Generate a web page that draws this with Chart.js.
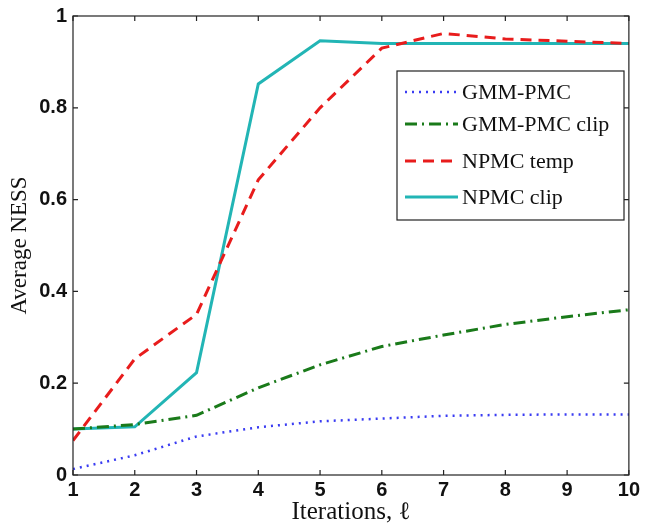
<!DOCTYPE html>
<html>
<head>
<meta charset="utf-8">
<script src="https://cdn.jsdelivr.net/npm/chart.js@4.4.0/dist/chart.umd.min.js"></script>
<style>
  html, body { margin: 0; padding: 0; background: #fff; }
  #wrap { width: 645px; height: 528px; }
</style>
</head>
<body>
<div id="wrap"><canvas id="ness"></canvas></div>
<script>
var iterations = [1, 2, 3, 4, 5, 6, 7, 8, 9, 10];
var gmmPmc = [0.013, 0.043, 0.084, 0.104, 0.117, 0.123, 0.129, 0.131, 0.132, 0.132];
var gmmPmcClip = [0.10, 0.11, 0.13, 0.19, 0.24, 0.28, 0.305, 0.328, 0.345, 0.36];
var npmcTemp = [0.075, 0.253, 0.35, 0.643, 0.80, 0.93, 0.962, 0.95, 0.945, 0.94];
var npmcClip = [0.10, 0.105, 0.223, 0.852, 0.946, 0.94, 0.94, 0.94, 0.94, 0.94];
var yTicks = [0, 0.2, 0.4, 0.6, 0.8, 1];

function pts(vals) {
    return vals.map(function (v, i) { return { x: iterations[i], y: v }; });
}

// matlab style box, inward ticks and legend
var matlabBox = {
    id: 'matlabBox',
    afterDatasetsDraw: function (chart) {
        var ctx = chart.ctx;
        var a = chart.chartArea;
        var xs = chart.scales.x, ys = chart.scales.y;
        ctx.save();
        ctx.strokeStyle = '#222';
        ctx.lineWidth = 1.2;
        ctx.strokeRect(a.left, a.top, a.right - a.left, a.bottom - a.top);
        iterations.forEach(function (v) {
            var px = xs.getPixelForValue(v);
            ctx.beginPath();
            ctx.moveTo(px, a.bottom); ctx.lineTo(px, a.bottom - 5);
            ctx.moveTo(px, a.top); ctx.lineTo(px, a.top + 5);
            ctx.stroke();
        });
        yTicks.forEach(function (v) {
            var py = ys.getPixelForValue(v);
            ctx.beginPath();
            ctx.moveTo(a.left, py); ctx.lineTo(a.left + 5, py);
            ctx.moveTo(a.right, py); ctx.lineTo(a.right - 5, py);
            ctx.stroke();
        });

        // legend
        var lx = 397, ly = 71, lw = 227, lh = 149;
        ctx.fillStyle = '#fff';
        ctx.fillRect(lx, ly, lw, lh);
        ctx.strokeStyle = '#222';
        ctx.lineWidth = 1.2;
        ctx.strokeRect(lx, ly, lw, lh);
        var rows = [92, 124, 161, 197];
        chart.data.datasets.forEach(function (ds, i) {
            var y = rows[i];
            ctx.strokeStyle = ds.borderColor;
            ctx.lineWidth = ds.borderWidth;
            ctx.setLineDash(ds.borderDash || []);
            ctx.beginPath();
            ctx.moveTo(405, y); ctx.lineTo(458, y);
            ctx.stroke();
            ctx.setLineDash([]);
            ctx.fillStyle = '#111';
            ctx.font = '22px "Liberation Serif"';
            ctx.textBaseline = 'middle';
            ctx.fillText(ds.label, 462, y + 1);
        });
        ctx.restore();
    }
};

new Chart(document.getElementById('ness'), {
    type: 'line',
    data: {
        datasets: [{
            label: 'GMM-PMC',
            data: pts(gmmPmc),
            borderColor: '#3a3cf2',
            borderWidth: 2.5,
            borderDash: [2, 5],
            pointRadius: 0,
            fill: false
        }, {
            label: 'GMM-PMC clip',
            data: pts(gmmPmcClip),
            borderColor: '#1a7a1a',
            borderWidth: 3,
            borderDash: [12, 5, 2, 5],
            pointRadius: 0,
            fill: false
        }, {
            label: 'NPMC temp',
            data: pts(npmcTemp),
            borderColor: '#e81c1c',
            borderWidth: 3,
            borderDash: [11, 7],
            pointRadius: 0,
            fill: false
        }, {
            label: 'NPMC clip',
            data: pts(npmcClip),
            borderColor: '#22b5b5',
            borderWidth: 3,
            pointRadius: 0,
            fill: false
        }]
    },
    options: {
        responsive: true,
        maintainAspectRatio: false,
        animation: false,
        layout: { padding: { left: 6, top: 13, right: 15, bottom: 0 } },
        plugins: {
            legend: { display: false },
            tooltip: { enabled: false }
        },
        scales: {
            x: {
                type: 'linear',
                min: 1,
                max: 10,
                afterBuildTicks: function (s) { s.ticks = iterations.map(function (v) { return { value: v }; }); },
                afterFit: function (s) { s.height = 53; },
                grid: { display: false, drawTicks: false },
                border: { display: false },
                ticks: {
                    color: '#111',
                    padding: 5,
                    maxRotation: 0,
                    font: { family: '"Liberation Sans"', size: 20, weight: 'bold', lineHeight: 1 }
                },
                title: {
                    display: true,
                    text: 'Iterations, \u2113',
                    color: '#111',
                    padding: { top: 0, bottom: 3 },
                    font: { family: '"Liberation Serif"', size: 25, lineHeight: 1 }
                }
            },
            y: {
                min: 0,
                max: 1,
                afterBuildTicks: function (s) { s.ticks = yTicks.map(function (v) { return { value: v }; }); },
                afterFit: function (s) { s.width = 67; },
                grid: { display: false, drawTicks: false },
                border: { display: false },
                ticks: {
                    color: '#111',
                    padding: 6,
                    callback: function (v) { return String(v); },
                    font: { family: '"Liberation Sans"', size: 20, weight: 'bold', lineHeight: 1 }
                },
                title: {
                    display: true,
                    text: 'Average NESS',
                    color: '#111',
                    padding: { top: 0, bottom: 0 },
                    font: { family: '"Liberation Serif"', size: 23 }
                }
            }
        }
    },
    plugins: [matlabBox]
});
</script>
</body>
</html>
